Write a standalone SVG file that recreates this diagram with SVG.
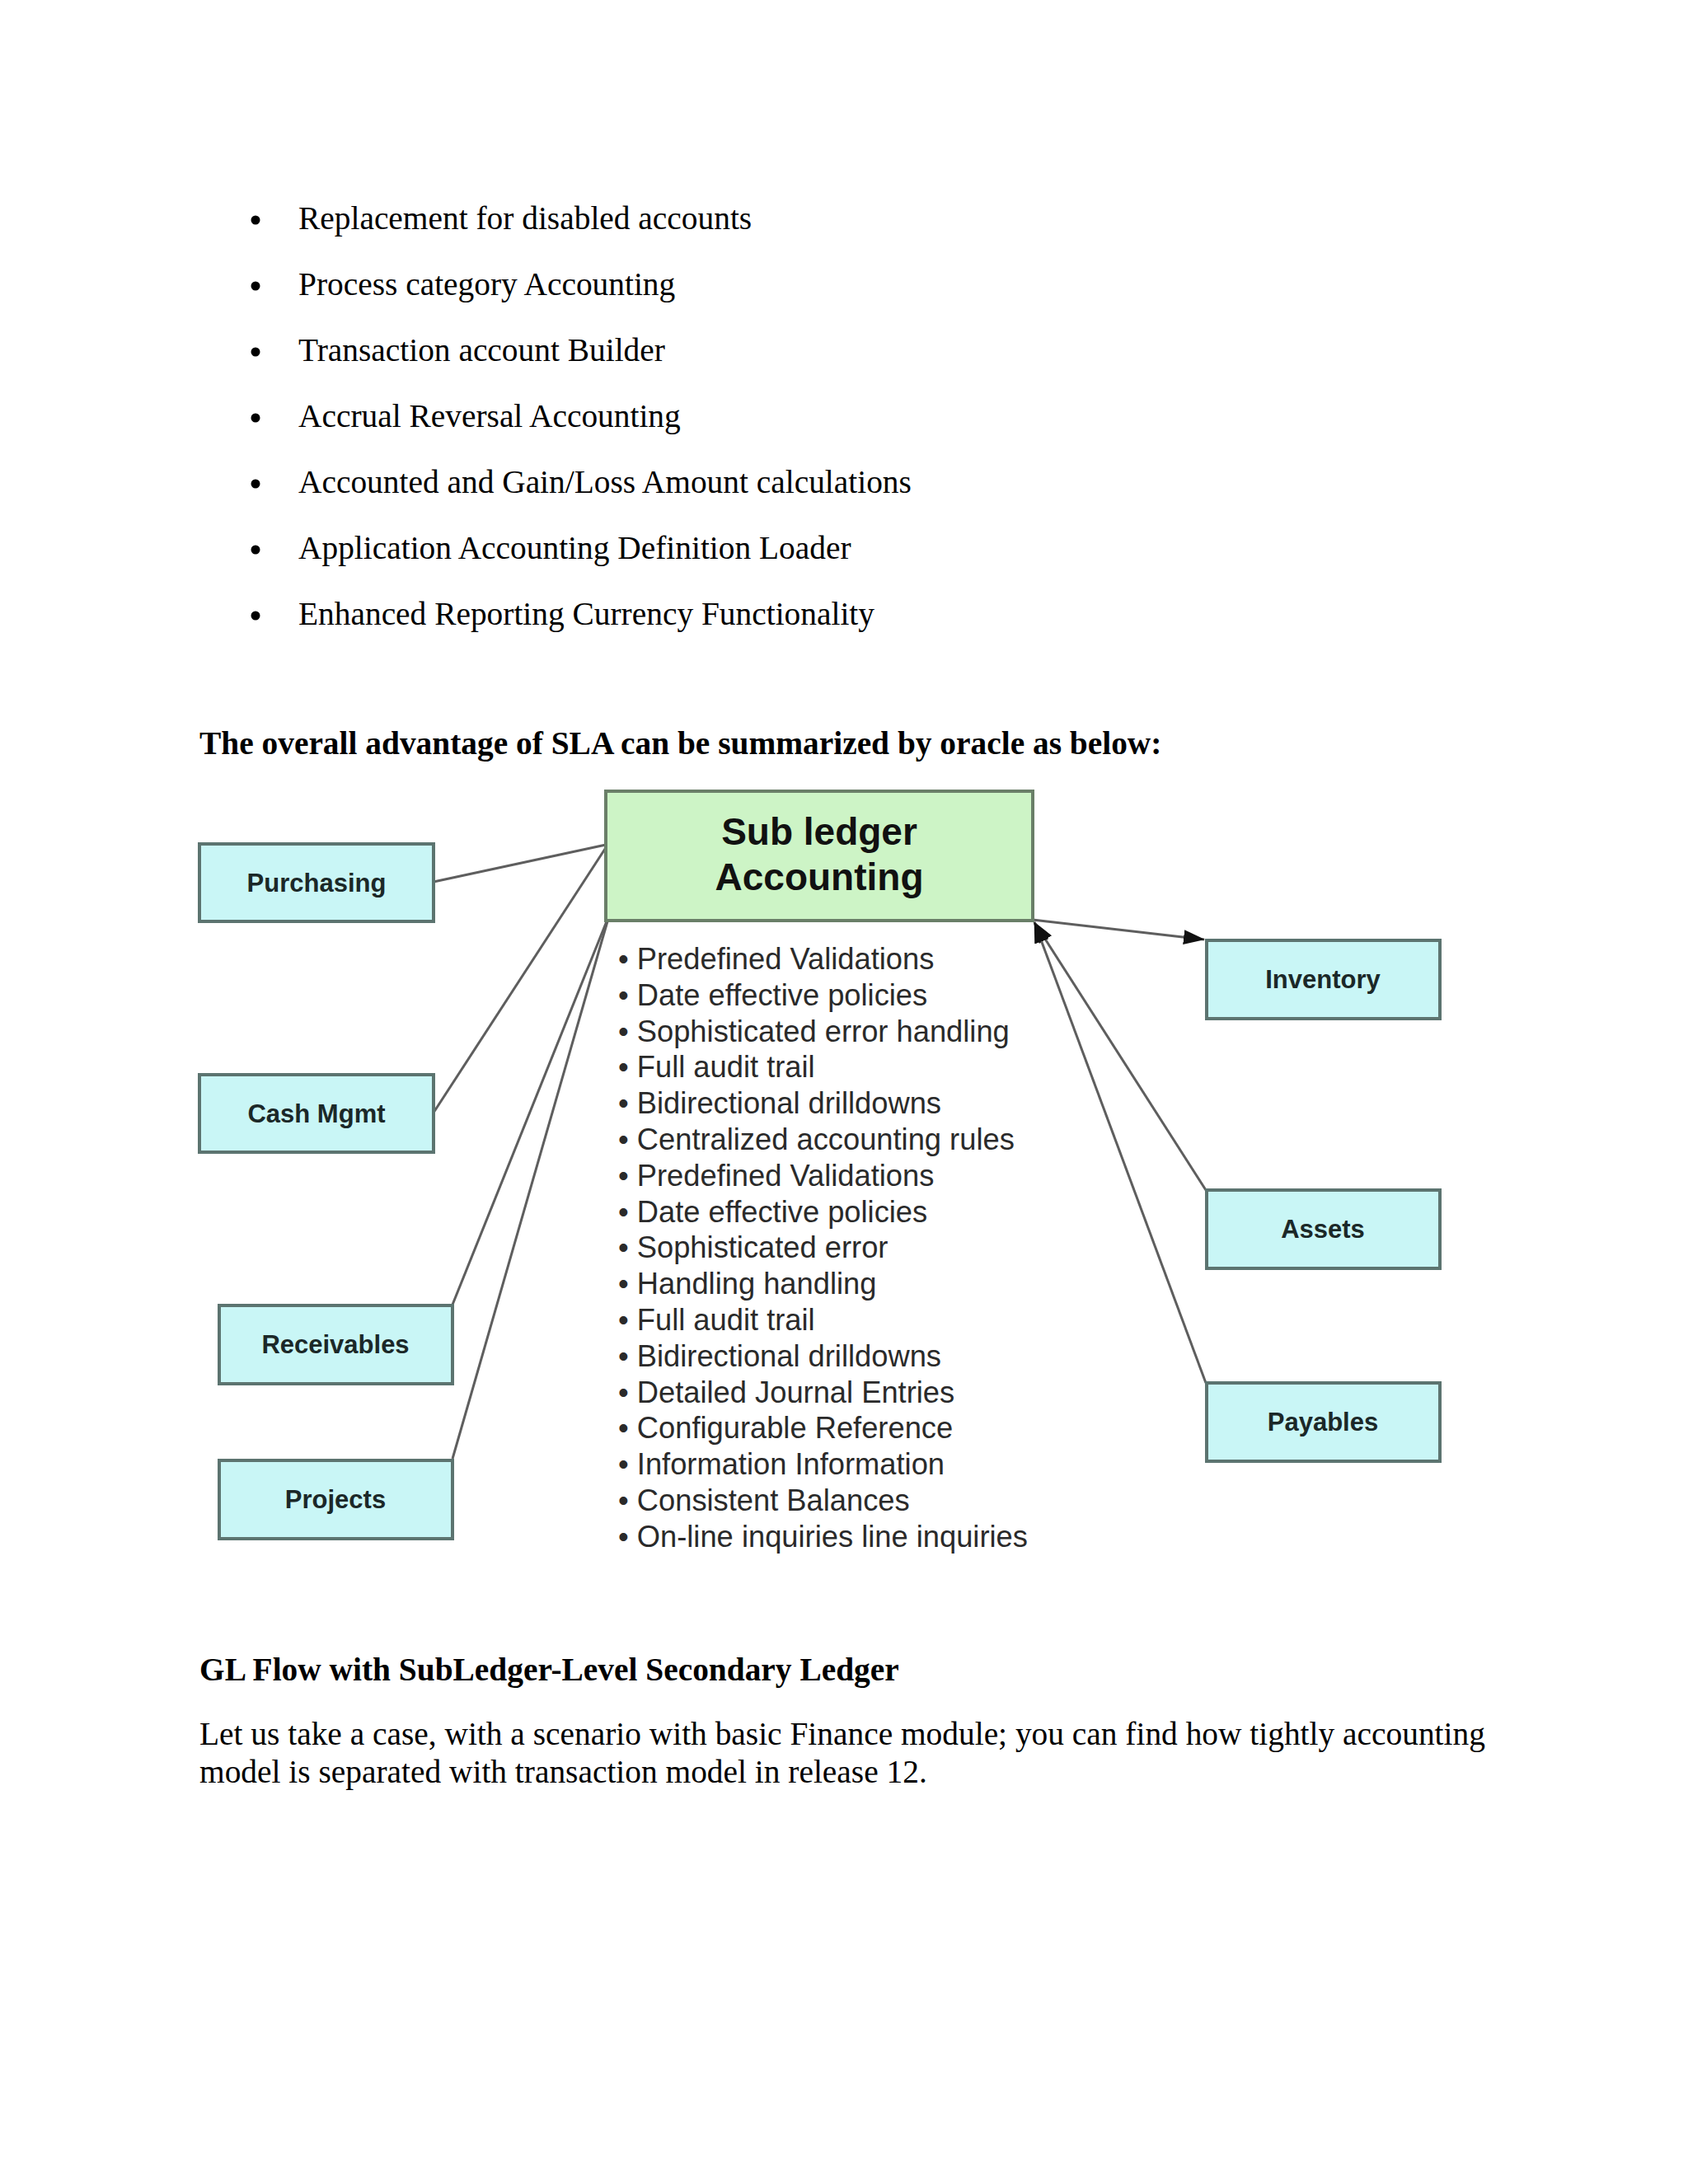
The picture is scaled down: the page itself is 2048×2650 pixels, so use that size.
<svg xmlns="http://www.w3.org/2000/svg" width="2048" height="2650" viewBox="0 0 2048 2650">
<style>
.doc{font-family:"Liberation Serif","Times New Roman",serif;font-size:39.4px;fill:#000}
.docb{font-family:"Liberation Serif","Times New Roman",serif;font-size:39.4px;font-weight:bold;fill:#000}
.dot{fill:#000}
.box{fill:#c9f6f6;stroke:#5c7470;stroke-width:4}
.blab{font-family:"Liberation Sans",Arial,sans-serif;font-size:31px;font-weight:bold;fill:#1b2828;text-anchor:middle}
.main{fill:#cdf4c6;stroke:#6a7f68;stroke-width:4}
.mlab{font-family:"Liberation Sans",Arial,sans-serif;font-size:46px;font-weight:bold;fill:#111;text-anchor:middle}
.feat{font-family:"Liberation Sans",Arial,sans-serif;font-size:36.3px;fill:#2a2a2a}
.con{stroke:#5e5e5e;stroke-width:3;fill:none}
</style>
<defs>
<marker id="ah" markerWidth="26" markerHeight="18" refX="25" refY="9" orient="auto" markerUnits="userSpaceOnUse">
<path d="M0,0 L26,9 L0,18 Z" fill="#111"/>
</marker>
</defs>
<rect width="2048" height="2650" fill="#fff"/>

<g id="top-list" class="doc">
<circle class="dot" cx="310" cy="267" r="5.5"/><text x="362" y="278">Replacement for disabled accounts</text>
<circle class="dot" cx="310" cy="347" r="5.5"/><text x="362" y="358">Process category Accounting</text>
<circle class="dot" cx="310" cy="427" r="5.5"/><text x="362" y="438">Transaction account Builder</text>
<circle class="dot" cx="310" cy="507" r="5.5"/><text x="362" y="518">Accrual Reversal Accounting</text>
<circle class="dot" cx="310" cy="587" r="5.5"/><text x="362" y="598">Accounted and Gain/Loss Amount calculations</text>
<circle class="dot" cx="310" cy="667" r="5.5"/><text x="362" y="678">Application Accounting Definition Loader</text>
<circle class="dot" cx="310" cy="747" r="5.5"/><text x="362" y="758">Enhanced Reporting Currency Functionality</text>
</g>

<text class="docb" x="242" y="915">The overall advantage of SLA can be summarized by oracle as below:</text>

<g id="connectors">
<line class="con" x1="526" y1="1070" x2="735" y2="1025"/>
<line class="con" x1="526" y1="1350" x2="736" y2="1027"/>
<line class="con" x1="549" y1="1583" x2="736" y2="1118"/>
<line class="con" x1="549" y1="1770" x2="737" y2="1118"/>
<line class="con" x1="1253" y1="1116" x2="1461" y2="1140" marker-end="url(#ah)"/>
<line class="con" x1="1463" y1="1444" x2="1255" y2="1119" marker-end="url(#ah)"/>
<line class="con" x1="1463" y1="1678" x2="1255" y2="1119" marker-end="url(#ah)"/>
</g>

<g id="sla">
<rect class="main" x="735" y="960" width="518" height="157"/>
<text class="mlab" x="994" y="1025">Sub ledger</text>
<text class="mlab" x="994" y="1080">Accounting</text>
</g>

<g id="features" class="feat">
<text x="750" y="1176">• Predefined Validations</text>
<text x="750" y="1220">• Date effective policies</text>
<text x="750" y="1264">• Sophisticated error handling</text>
<text x="750" y="1307">• Full audit trail</text>
<text x="750" y="1351">• Bidirectional drilldowns</text>
<text x="750" y="1395">• Centralized accounting rules</text>
<text x="750" y="1439">• Predefined Validations</text>
<text x="750" y="1483">• Date effective policies</text>
<text x="750" y="1526">• Sophisticated error</text>
<text x="750" y="1570">• Handling handling</text>
<text x="750" y="1614">• Full audit trail</text>
<text x="750" y="1658">• Bidirectional drilldowns</text>
<text x="750" y="1702">• Detailed Journal Entries</text>
<text x="750" y="1745">• Configurable Reference</text>
<text x="750" y="1789">• Information Information</text>
<text x="750" y="1833">• Consistent Balances</text>
<text x="750" y="1877">• On-line inquiries line inquiries</text>
</g>

<g id="purchasing"><rect class="box" x="242" y="1024" width="284" height="94"/><text class="blab" x="384" y="1082">Purchasing</text></g>
<g id="cash-mgmt"><rect class="box" x="242" y="1304" width="284" height="94"/><text class="blab" x="384" y="1362">Cash Mgmt</text></g>
<g id="receivables"><rect class="box" x="266" y="1584" width="283" height="95"/><text class="blab" x="407" y="1642">Receivables</text></g>
<g id="projects"><rect class="box" x="266" y="1772" width="283" height="95"/><text class="blab" x="407" y="1830">Projects</text></g>
<g id="inventory"><rect class="box" x="1464" y="1141" width="283" height="95"/><text class="blab" x="1605" y="1199">Inventory</text></g>
<g id="assets"><rect class="box" x="1464" y="1444" width="283" height="95"/><text class="blab" x="1605" y="1502">Assets</text></g>
<g id="payables"><rect class="box" x="1464" y="1678" width="283" height="95"/><text class="blab" x="1605" y="1736">Payables</text></g>

<text class="docb" x="242" y="2039">GL Flow with SubLedger-Level Secondary Ledger</text>
<text class="doc" x="242" y="2117">Let us take a case, with a scenario with basic Finance module; you can find how tightly accounting</text>
<text class="doc" x="242" y="2163">model is separated with transaction model in release 12.</text>
</svg>
